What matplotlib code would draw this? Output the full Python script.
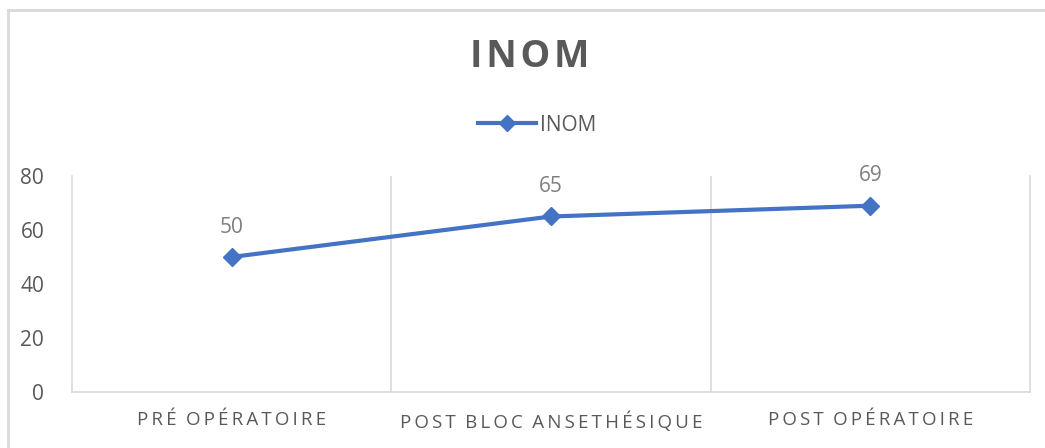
import matplotlib.pyplot as plt
from matplotlib.lines import Line2D

categories = ['PRÉ OPÉRATOIRE', 'POST BLOC ANSETHÉSIQUE', 'POST OPÉRATOIRE']
inom = [50, 65, 69]
yticks = [0, 20, 40, 60, 80]

blue = '#4472C4'
grey_txt = '#595959'
grid_col = '#d9d9d9'
fonts = ['Open Sans', 'DejaVu Sans']


def spaced(s, gap='\u2009'):
    # imitate Excel's expanded character spacing
    words = s.split(' ')
    return (gap * 3).join(gap.join(w) for w in words)


fig = plt.figure(figsize=(10.45, 4.48), dpi=100)
ax = fig.add_axes([72 / 1045, 1 - 392 / 448, 958 / 1045, 216 / 448])

x = list(range(len(categories)))
ax.plot(x, inom, color=blue, lw=3, marker='D', ms=9, zorder=3)
for xi, v in zip(x, inom):
    ax.annotate(str(v), (xi, v), xytext=(0, 14), textcoords='offset points',
                ha='center', va='bottom', fontsize=15, color='#7f7f7f', family=fonts)

ax.set_xlim(-0.5, len(categories) - 0.5)
ax.set_ylim(0, 80)
ax.set_yticks(yticks)
ax.set_yticklabels([str(t) for t in yticks], fontsize=15, color=grey_txt, family=fonts)
ax.set_xticks(x)
ax.set_xticklabels([spaced(c) for c in categories], fontsize=13.5,
                   color=grey_txt, family=fonts)
ax.tick_params(length=0)
ax.tick_params(axis='y', pad=20)
ax.tick_params(axis='x', pad=14)

for b in [0.5, 1.5]:
    ax.axvline(b, color=grid_col, lw=1.2, zorder=1)
for side in ['left', 'right', 'bottom']:
    ax.spines[side].set_color(grid_col)
    ax.spines[side].set_linewidth(1.2)
ax.spines['top'].set_visible(False)

fig.text(530 / 1045, 1 - 57 / 448, spaced('INOM', '\u200a'), ha='center', va='center',
         fontsize=27, fontweight='bold', color=grey_txt, family=fonts)

handle = Line2D([], [], color=blue, lw=3, marker='D', ms=8)
fig.legend([handle], ['INOM'], loc='center', bbox_to_anchor=(537 / 1045, 1 - 125 / 448),
           frameon=False, labelcolor=grey_txt, handlelength=2.8,
           handletextpad=0.2, prop={'family': fonts, 'size': 15})

# chart border
fig.add_artist(Line2D([8 / 1045, 8 / 1045], [0, 1 - 10 / 448], color=grid_col, lw=2))
fig.add_artist(Line2D([8 / 1045, 1], [1 - 10 / 448, 1 - 10 / 448], color=grid_col, lw=2))

fig.savefig('out.png', dpi=100)
